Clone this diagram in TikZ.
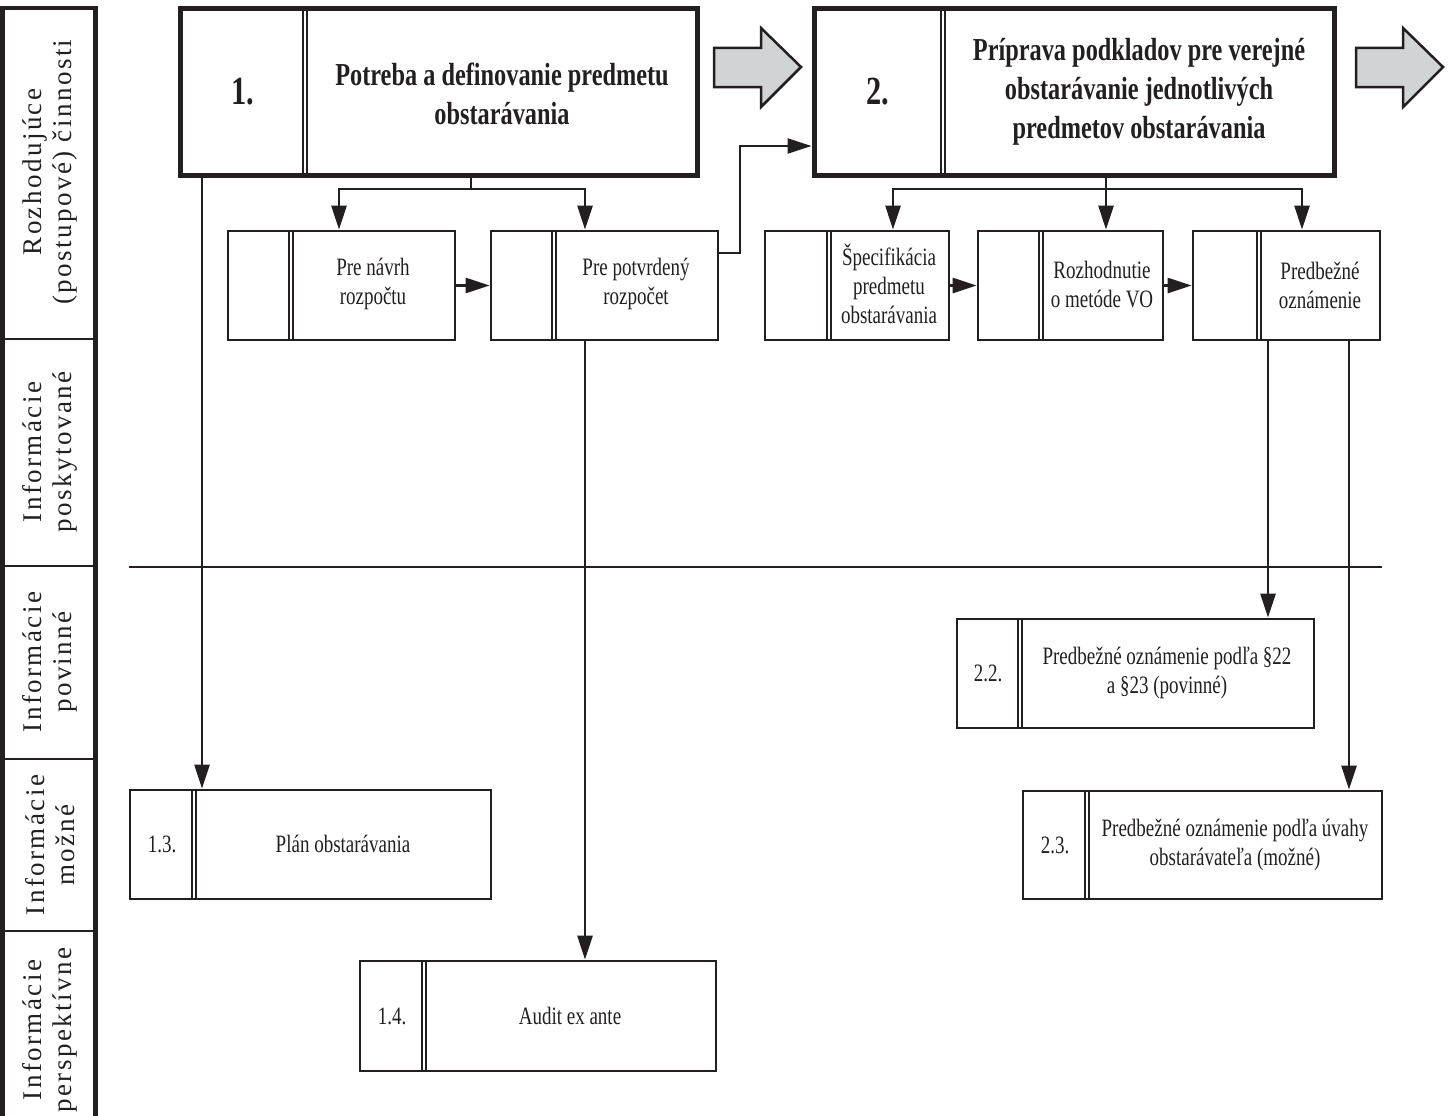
\documentclass[tikz,border=0pt]{standalone}
\usepackage{fontspec}
\setmainfont{Liberation Serif}
\newfontfamily\condf[FakeStretch=0.76]{Liberation Serif}
\newfontfamily\lblf[LetterSpace=9]{Liberation Serif}
\usetikzlibrary{arrows.meta,backgrounds}
\definecolor{ink}{RGB}{35,31,32}
\definecolor{arrgray}{RGB}{210,211,213}
\tikzset{
 bigbox/.style={draw=ink, line width=5pt, inner sep=0pt},
 smallbox/.style={draw=ink, line width=2.8pt, inner sep=0pt},
 dbl/.style={draw=ink, double=white, double distance=2.5pt, line width=1.3pt},
 conn/.style={draw=ink, line width=2.6pt},
 arr/.style={conn, -{Triangle[length=24pt,width=15pt]}},
 ttl/.style={align=center, font=\condf\bfseries\fontsize{32}{39}\selectfont, inner sep=0pt, text=ink},
 num/.style={font=\condf\bfseries\fontsize{40}{44}\selectfont, inner sep=0pt, text=ink},
 txt/.style={align=center, font=\condf\fontsize{25}{29}\selectfont, inner sep=0pt, text=ink},
 lbl/.style={align=center, rotate=90, font=\lblf\fontsize{27}{30}\selectfont, inner sep=0pt, text=ink},
 garrow/.style={fill=arrgray, draw=ink, line width=2.5pt, line join=miter},
}
\begin{document}
\begin{tikzpicture}[x=1pt,y=-1pt]
\useasboundingbox (0,0) rectangle (1448,1116);
% left column
\draw[ink, line width=4.5pt] (2.5,1120) -- (2.5,8) -- (95.5,8) -- (95.5,1120);
\foreach \yy in {339,566,759,931} \draw[ink, line width=2.5pt] (2.5,\yy) -- (95.5,\yy);
\node[lbl] (L1) at (50,172) {Rozhodujúce\\(postupové) činnosti};
\node[lbl] (L2) at (50,452) {Informácie\\poskytované};
\node[lbl] (L3) at (50,662) {Informácie\\povinné};
\node[lbl] (L4) at (50,845) {Informácie\\možné};
\node[lbl] (L5) at (50,1030) {Informácie\\perspektívne};

% boxes
\node[bigbox, minimum width=517pt, minimum height=166pt] (b1) at (438.5,92) {};
\node[bigbox, minimum width=520pt, minimum height=166pt] (b2) at (1074,92) {};
\node[smallbox, minimum width=227pt, minimum height=109pt] (A) at (341.5,285.5) {};
\node[smallbox, minimum width=227pt, minimum height=109pt] (B) at (604.5,285.5) {};
\node[smallbox, minimum width=184pt, minimum height=109pt] (C) at (857,285.5) {};
\node[smallbox, minimum width=185pt, minimum height=109pt] (D) at (1070.5,285.5) {};
\node[smallbox, minimum width=187pt, minimum height=109pt] (E) at (1286.5,285.5) {};
\node[smallbox, minimum width=357pt, minimum height=109pt] (B22) at (1135.5,673.5) {};
\node[smallbox, minimum width=359pt, minimum height=108pt] (B23) at (1202.5,845) {};
\node[smallbox, minimum width=361pt, minimum height=109pt] (B13) at (310.5,844.5) {};
\node[smallbox, minimum width=356pt, minimum height=110pt] (B14) at (538,1016) {};

\begin{scope}[on background layer]
\draw[dbl] (b1.north -| 305,0) -- (b1.south -| 305,0);
\draw[dbl] (b2.north -| 943,0) -- (b2.south -| 943,0);
\draw[dbl] (A.north -| 291,0) -- (A.south -| 291,0);
\draw[dbl] (B.north -| 554,0) -- (B.south -| 554,0);
\draw[dbl] (C.north -| 829,0) -- (C.south -| 829,0);
\draw[dbl] (D.north -| 1041,0) -- (D.south -| 1041,0);
\draw[dbl] (E.north -| 1259,0) -- (E.south -| 1259,0);
\draw[dbl] (B22.north -| 1020,0) -- (B22.south -| 1020,0);
\draw[dbl] (B23.north -| 1087,0) -- (B23.south -| 1087,0);
\draw[dbl] (B13.north -| 194,0) -- (B13.south -| 194,0);
\draw[dbl] (B14.north -| 424,0) -- (B14.south -| 424,0);
\end{scope}

% texts
\node[num] (b1n) at (243,92) {1.};
\node[ttl] (b1t) at (502,94) {Potreba a definovanie predmetu\\obstarávania};
\node[num] (b2n) at (878,92) {2.};
\node[ttl] (b2t) at (1139,92) {Príprava podkladov pre verejné\\obstarávanie jednotlivých\\predmetov obstarávania};
\node[txt] (At) at (373,284) {Pre návrh\\rozpočtu};
\node[txt] (Bt) at (636,284) {Pre potvrdený\\rozpočet};
\node[txt] (Ct) at (889,284) {Špecifikácia\\predmetu\\obstarávania};
\node[txt] (Dt) at (1102,285) {Rozhodnutie\\o metóde VO};
\node[txt] (Et) at (1320,285) {Predbežné\\oznámenie};
\node[txt] (n22) at (988,673) {2.2.};
\node[txt] (t22) at (1167,673) {Predbežné oznámenie podľa §22\\a §23 (povinné)};
\node[txt] (n23) at (1055,845) {2.3.};
\node[txt] (t23) at (1235,845) {Predbežné oznámenie podľa úvahy\\obstarávateľa (možné)};
\node[txt] (n13) at (162,844) {1.3.};
\node[txt] (t13) at (343,844) {Plán obstarávania};
\node[txt] (n14) at (392,1016) {1.4.};
\node[txt] (t14) at (570,1016) {Audit ex ante};

% gray arrows
\draw[garrow] (714,48) -- (761,48) -- (761,28) -- (801,67) -- (761,107) -- (761,87) -- (714,87) -- cycle;
\draw[garrow] (1356,48) -- (1403,48) -- (1403,28) -- (1443,67) -- (1403,107) -- (1403,87) -- (1356,87) -- cycle;

% separator
\coordinate (sepL) at (129,567);
\coordinate (sepR) at (1382,567);
\draw[conn] (sepL) -- (sepR);

% connectors
\draw[conn] (b1.south -| 471,0) -- (471,189);
\draw[conn, line cap=rect] (339,189) -- (585,189);
\draw[arr] (339,189) -- (A.north -| 339,0);
\draw[arr] (585,189) -- (B.north -| 585,0);
\draw[arr] (A.east) -- (B.west);
\draw[arr] (B.east |- 0,253) -- (740,253) -- (740,146) -- (b2.west |- 0,146);
\draw[conn] (b2.south -| 1106,0) -- (1106,189);
\draw[conn, line cap=rect] (893,189) -- (1302,189);
\draw[arr] (893,189) -- (C.north -| 893,0);
\draw[arr] (1106,189) -- (D.north -| 1106,0);
\draw[arr] (1302,189) -- (E.north -| 1302,0);
\draw[arr] (C.east) -- (D.west);
\draw[arr] (D.east) -- (E.west);
\draw[arr] (E.south -| 1268,0) -- (B22.north -| 1268,0);
\draw[arr] (E.south -| 1349,0) -- (B23.north -| 1349,0);
\draw[arr] (b1.south -| 202,0) -- (B13.north -| 202,0);
\draw[arr] (B.south -| 585,0) -- (B14.north -| 585,0);
\end{tikzpicture}
\end{document}
